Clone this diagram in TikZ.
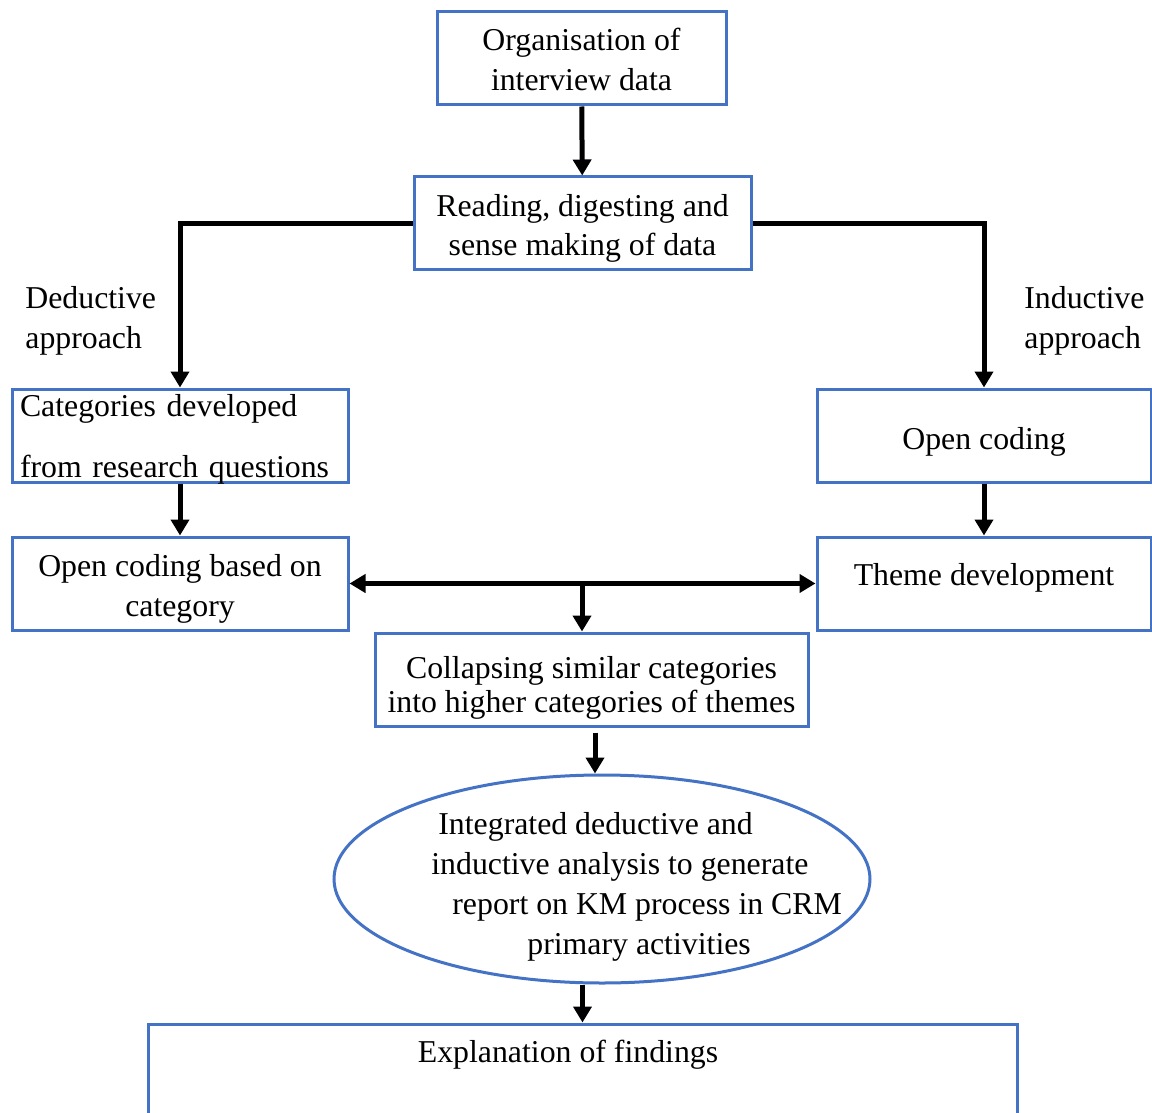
\documentclass[tikz,border=0pt]{standalone}
\usepackage{fontspec}
\setmainfont{Liberation Serif}
\usetikzlibrary{arrows.meta,shapes.geometric}
\definecolor{boxblue}{HTML}{4472C4}
% lines of box text, moved up or down inside their box (box size unchanged)
\newcommand\movedtext[3][c]{\raisebox{#2}[\height][\depth]{\begin{tabular}{@{}#1@{}}#3\end{tabular}}}
\newcommand\movedline[2]{\raisebox{#1}[\height][\depth]{#2}}
\begin{document}
\begin{tikzpicture}[x=0.5pt,y=-0.5pt,
  every node/.style={font=\fontsize{15.9}{20}\selectfont},
  box/.style={draw=boxblue, line width=1.5pt, rectangle, inner sep=0pt, align=center},
  arr/.style={line width=2.5pt, -{Triangle[length=8pt,width=9pt]}},
  darr/.style={line width=2.5pt, {Triangle[length=8pt,width=9pt]}-{Triangle[length=8pt,width=9pt]}}
]
\useasboundingbox (0,0) rectangle (1152,1113);
\clip (0,0) rectangle (1152,1113);

% boxes
\node[box, minimum width=144.5pt, minimum height=46.5pt] (b1) at (581.5,58.5)
  {\movedtext{-2pt}{Organisation of\\interview data}};
\node[box, minimum width=168.5pt, minimum height=46pt] (b2) at (582.5,223)
  {\movedtext{-2.5pt}{Reading, digesting and\\sense making of data}};
\node[box, minimum width=168pt, minimum height=46.5pt, text width=160pt, align=left] (b3) at (180,435.5)
  {\raisebox{-1.5pt}[\dimexpr\height-6pt\relax][\dimexpr\depth-6pt\relax]{\begin{tabular}{@{}l@{}}Categories developed\\[10.5pt]from research questions\end{tabular}}};
\node[box, minimum width=167pt, minimum height=46.5pt] (b4) at (984,435.5)
  {\movedline{-3pt}{Open coding}};
\node[box, minimum width=168pt, minimum height=46.5pt] (b5) at (180,583.5)
  {\movedtext{-2.5pt}{Open coding based on\\category}};
\node[box, minimum width=167pt, minimum height=46.5pt] (b6) at (984,583.5)
  {\movedline{3pt}{Theme development}};
\node[box, minimum width=216.5pt, minimum height=46.5pt] (b7) at (591.5,679.5)
  {\movedtext{-4pt}{Collapsing similar categories\\[-3pt]into higher categories of themes}};
\node[draw=boxblue, line width=1.5pt, ellipse, minimum width=268pt, minimum height=104pt, inner sep=0pt] (ell) at (602,879) {};
\node[anchor=west, align=left, inner sep=0pt] (elltext) at (431,887)
  {\hspace*{3.5pt}Integrated deductive and\\inductive analysis to generate\\\hspace*{10.5pt}report on KM process in CRM\\\hspace*{48pt}primary activities};
\node[box, minimum width=434.5pt, minimum height=78pt] (b8) at (582.5,1102) {};
\node[inner sep=0pt] (b8t) at (568,1055) {Explanation of findings};

% side labels
\node[anchor=west, align=left, inner sep=0pt] (ded) at (25,321) {Deductive\\approach};
\node[anchor=west, align=left, inner sep=0pt] (ind) at (1024,321) {Inductive\\approach};

% connectors
\draw[arr] (b1) -- (b2);
\draw[arr] (b2.west) -| (b3.north);
\draw[arr] (b2.east) -| (b4.north);
\draw[arr] (b3) -- (b5);
\draw[arr] (b4) -- (b6);
\draw[darr] (b5.east) -- (b6.west);
\coordinate (j) at (582,583.5);
\draw[arr] (j) -- (j |- b7.north);
\draw[arr] ([shift={(1.75pt,-2.5pt)}]b7.south) coordinate (s7) -- (s7 |- ell.north);
\draw[arr] (b8.north |- ell.south) -- (b8.north);
\end{tikzpicture}
\end{document}
